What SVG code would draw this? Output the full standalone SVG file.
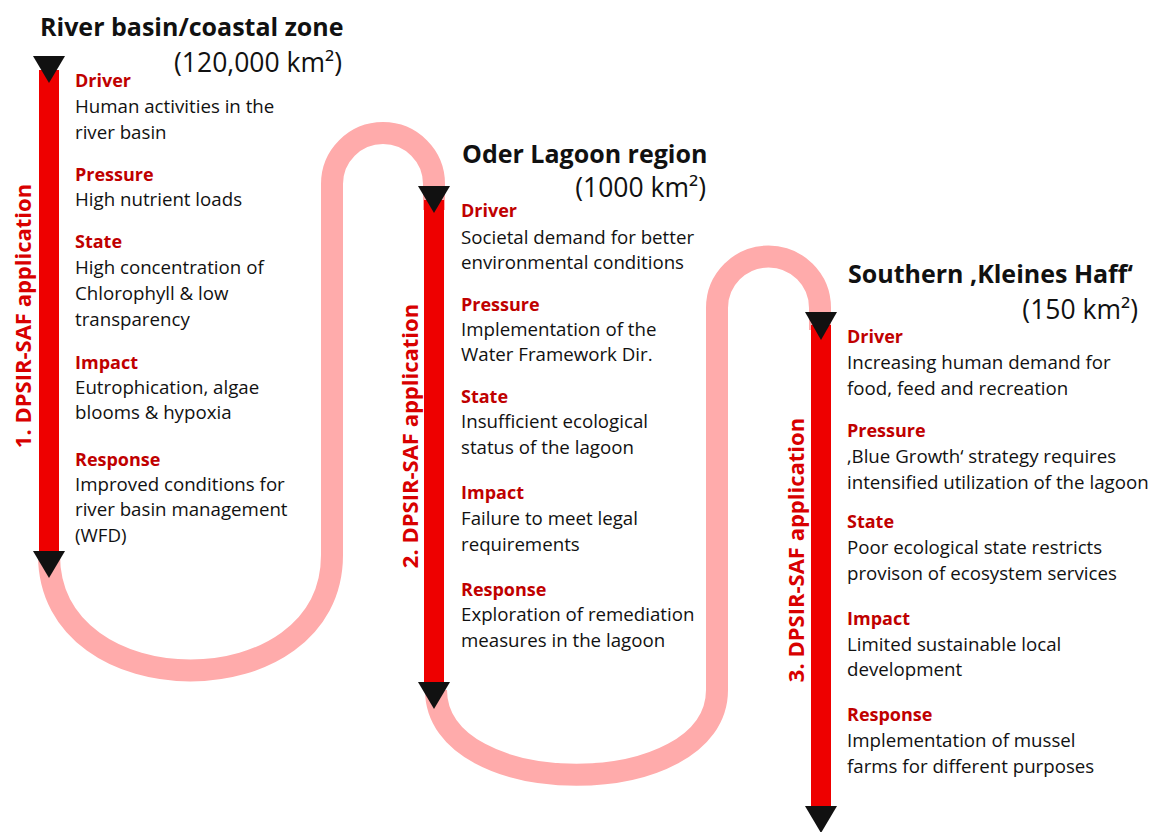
<svg xmlns="http://www.w3.org/2000/svg" width="1151" height="832" viewBox="0 0 1151 832">
<style>
.loop{fill:none;stroke:#FFABAB;stroke-width:22}
.bar{fill:#EE0000}
.tri{fill:#111111}
.title{font-family:"Open Sans","Liberation Sans",sans-serif;font-weight:bold;font-size:25px;fill:#111}
.sub{font-family:"Open Sans","Liberation Sans",sans-serif;font-size:26.5px;fill:#111;text-anchor:end}
.head{font-family:"Open Sans","Liberation Sans",sans-serif;font-weight:bold;font-size:18px;fill:#C00000}
.body{font-family:"Open Sans","Liberation Sans",sans-serif;font-size:18.7px;fill:#111}
.vlab{font-family:"Open Sans","Liberation Sans",sans-serif;font-weight:bold;font-size:22px;fill:#D80000;text-anchor:middle}
</style>
<rect width="1151" height="832" fill="#ffffff"/>
<g id="connectors">
<path class="loop" d="M49,555 C49,709 332,709 332,555 L332,184 A51,51 0 0 1 434,184 L434,210"/>
<path class="loop" d="M436,690 C436,803 717,803 717,690 L717,308 A51.5,51.5 0 0 1 820,308 L820,330"/>
</g>
<g id="app1">
<rect class="bar" x="39" y="70" width="20" height="484"/>
<polygon class="tri" points="33,56 65,56 49,83"/>
<polygon class="tri" points="33,551 65,551 49,578"/>
<text class="vlab" transform="translate(31,316) rotate(-90)">1. DPSIR-SAF application</text>
<text class="title" x="40" y="36">River basin/coastal zone</text>
<text class="sub" x="342" y="72">(120,000 km²)</text>
<text class="head" x="75" y="87">Driver</text>
<text class="body" x="75" y="113">Human activities in the</text>
<text class="body" x="75" y="139">river basin</text>
<text class="head" x="75" y="181">Pressure</text>
<text class="body" x="75" y="206">High nutrient loads</text>
<text class="head" x="75" y="248">State</text>
<text class="body" x="75" y="274">High concentration of</text>
<text class="body" x="75" y="300">Chlorophyll &amp; low</text>
<text class="body" x="75" y="326">transparency</text>
<text class="head" x="75" y="369">Impact</text>
<text class="body" x="75" y="394">Eutrophication, algae</text>
<text class="body" x="75" y="419">blooms &amp; hypoxia</text>
<text class="head" x="75" y="466">Response</text>
<text class="body" x="75" y="491">Improved conditions for</text>
<text class="body" x="75" y="516">river basin management</text>
<text class="body" x="75" y="542">(WFD)</text>
</g>
<g id="app2">
<rect class="bar" x="424" y="200" width="20" height="484"/>
<polygon class="tri" points="418,186 450,186 434,213"/>
<polygon class="tri" points="418,682 450,682 434,709"/>
<text class="vlab" transform="translate(418,436) rotate(-90)">2. DPSIR-SAF application</text>
<text class="title" x="462" y="163">Oder Lagoon region</text>
<text class="sub" x="706" y="197">(1000 km²)</text>
<text class="head" x="461" y="217">Driver</text>
<text class="body" x="461" y="244">Societal demand for better</text>
<text class="body" x="461" y="269">environmental conditions</text>
<text class="head" x="461" y="311">Pressure</text>
<text class="body" x="461" y="336">Implementation of the</text>
<text class="body" x="461" y="361">Water Framework Dir.</text>
<text class="head" x="461" y="403">State</text>
<text class="body" x="461" y="428">Insufficient ecological</text>
<text class="body" x="461" y="454">status of the lagoon</text>
<text class="head" x="461" y="499">Impact</text>
<text class="body" x="461" y="525">Failure to meet legal</text>
<text class="body" x="461" y="551">requirements</text>
<text class="head" x="461" y="596">Response</text>
<text class="body" x="461" y="621">Exploration of remediation</text>
<text class="body" x="461" y="647">measures in the lagoon</text>
</g>
<g id="app3">
<rect class="bar" x="811" y="325" width="20" height="484"/>
<polygon class="tri" points="805,312 837,312 821,340"/>
<polygon class="tri" points="805,806 837,806 821,833"/>
<text class="vlab" transform="translate(804,550) rotate(-90)">3. DPSIR-SAF application</text>
<text class="title" x="848" y="283">Southern ‚Kleines Haff‘</text>
<text class="sub" x="1138" y="319">(150 km²)</text>
<text class="head" x="847" y="343">Driver</text>
<text class="body" x="847" y="369">Increasing human demand for</text>
<text class="body" x="847" y="395">food, feed and recreation</text>
<text class="head" x="847" y="437">Pressure</text>
<text class="body" x="847" y="463">‚Blue Growth‘ strategy requires</text>
<text class="body" x="847" y="489">intensified utilization of the lagoon</text>
<text class="head" x="847" y="528">State</text>
<text class="body" x="847" y="554">Poor ecological state restricts</text>
<text class="body" x="847" y="580">provison of ecosystem services</text>
<text class="head" x="847" y="625">Impact</text>
<text class="body" x="847" y="651">Limited sustainable local</text>
<text class="body" x="847" y="676">development</text>
<text class="head" x="847" y="721">Response</text>
<text class="body" x="847" y="747">Implementation of mussel</text>
<text class="body" x="847" y="773">farms for different purposes</text>
</g>
</svg>
